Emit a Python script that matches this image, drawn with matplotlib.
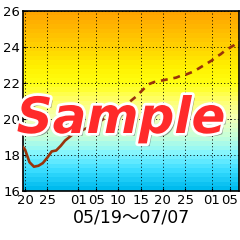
######### Temperature trend chart #########

import datetime as dt
import numpy as np
import matplotlib
matplotlib.use("Agg")
import matplotlib.pyplot as plt
import matplotlib.dates as mdates
import matplotlib.patheffects as pe
from matplotlib.colors import LinearSegmentedColormap

# observed values (solid), daily from 05/19
obs_start = dt.date(2024, 5, 19)
obs_values = [18.6, 18.3, 17.6, 17.35, 17.4, 17.55, 17.85, 18.2, 18.25,
              18.5, 18.8, 19.0, 19.2, 19.3, 19.4, 19.5]

# normal / forecast values (dashed), daily from 06/03
fc_start = dt.date(2024, 6, 3)
fc_values = [19.5, 19.6, 19.75, 19.9, 20.05, 20.2, 20.35, 20.5, 20.65,
             20.85, 21.05, 21.25, 21.5, 21.75, 21.95, 22.05, 22.1, 22.15,
             22.2, 22.25, 22.3, 22.4, 22.45, 22.55, 22.65, 22.8, 22.95,
             23.1, 23.25, 23.45, 23.6, 23.8, 23.95, 24.1, 24.3, 24.45]

y_ticks = [16, 18, 20, 22, 24, 26]
period_label = "05/19〜07/07"

# background colour stops (temperature -> colour)
bg_stops = [(16, "#00BBEE"), (17, "#38DCFF"), (18, "#84F6FF"), (19, "#C8FFD8"),
            (20, "#F4FFB8"), (21, "#FFFF70"), (22, "#FFFF10"), (23, "#FFF000"),
            (24, "#FFD400"), (25, "#FFBC00"), (26, "#FFA400")]

obs_dates = [obs_start + dt.timedelta(days=i) for i in range(len(obs_values))]
fc_dates = [fc_start + dt.timedelta(days=i) for i in range(len(fc_values))]

fig = plt.figure(figsize=(2.4, 2.4), dpi=100)
ax = fig.add_axes([23 / 240, 49 / 240, 216 / 240, 180 / 240])

x0 = mdates.date2num(dt.datetime(2024, 5, 19, 13))
x1 = mdates.date2num(dt.datetime(2024, 7, 7, 3))
y0, y1 = y_ticks[0], y_ticks[-1]

######### banded gradient background #########
cmap = LinearSegmentedColormap.from_list(
    "bg", [((v - y0) / (y1 - y0), c) for v, c in bg_stops])
bands = np.linspace(0, 1, 40)[::-1].reshape(-1, 1)
ax.imshow(bands, cmap=cmap, aspect="auto", extent=[x0, x1, y0, y1],
          interpolation="nearest", zorder=0)

######### lines #########
line_color = "#99330A"
ax.plot(obs_dates, obs_values, color=line_color, lw=1.9, zorder=3,
        solid_capstyle="round")
ax.plot(fc_dates, fc_values, color=line_color, lw=1.9, zorder=3,
        dashes=(2.6, 2.2))

ax.set_xlim(x0, x1)
ax.set_ylim(y0, y1)
ax.set_yticks(y_ticks)
ax.xaxis.set_major_locator(mdates.DayLocator(bymonthday=[1, 5, 10, 15, 20, 25]))
ax.xaxis.set_major_formatter(mdates.DateFormatter("%d"))
ax.grid(True, color="black", linestyle=(0, (1, 2.5)), lw=0.7, zorder=1)
ax.set_axisbelow(False)
ax.tick_params(direction="in", length=2, labelsize=9.5, pad=2, colors="black")
for s in ax.spines.values():
    s.set_linewidth(1.2)
ax.set_xlabel(period_label, fontsize=12.5, labelpad=1,
              family=["DejaVu Sans", "Noto Sans CJK JP"])

######### watermark #########
fig.text(121 / 240, 1 - 133 / 240, "Sample", ha="center", va="baseline",
         fontsize=36, fontweight="bold", style="italic", color="#FF2A2A",
         zorder=10,
         path_effects=[pe.SimplePatchShadow(offset=(2, -2), shadow_rgbFace="#555555", alpha=0.6),
                       pe.Stroke(linewidth=4, foreground="white"),
                       pe.Normal()])

fig.savefig("out.png", dpi=100)
